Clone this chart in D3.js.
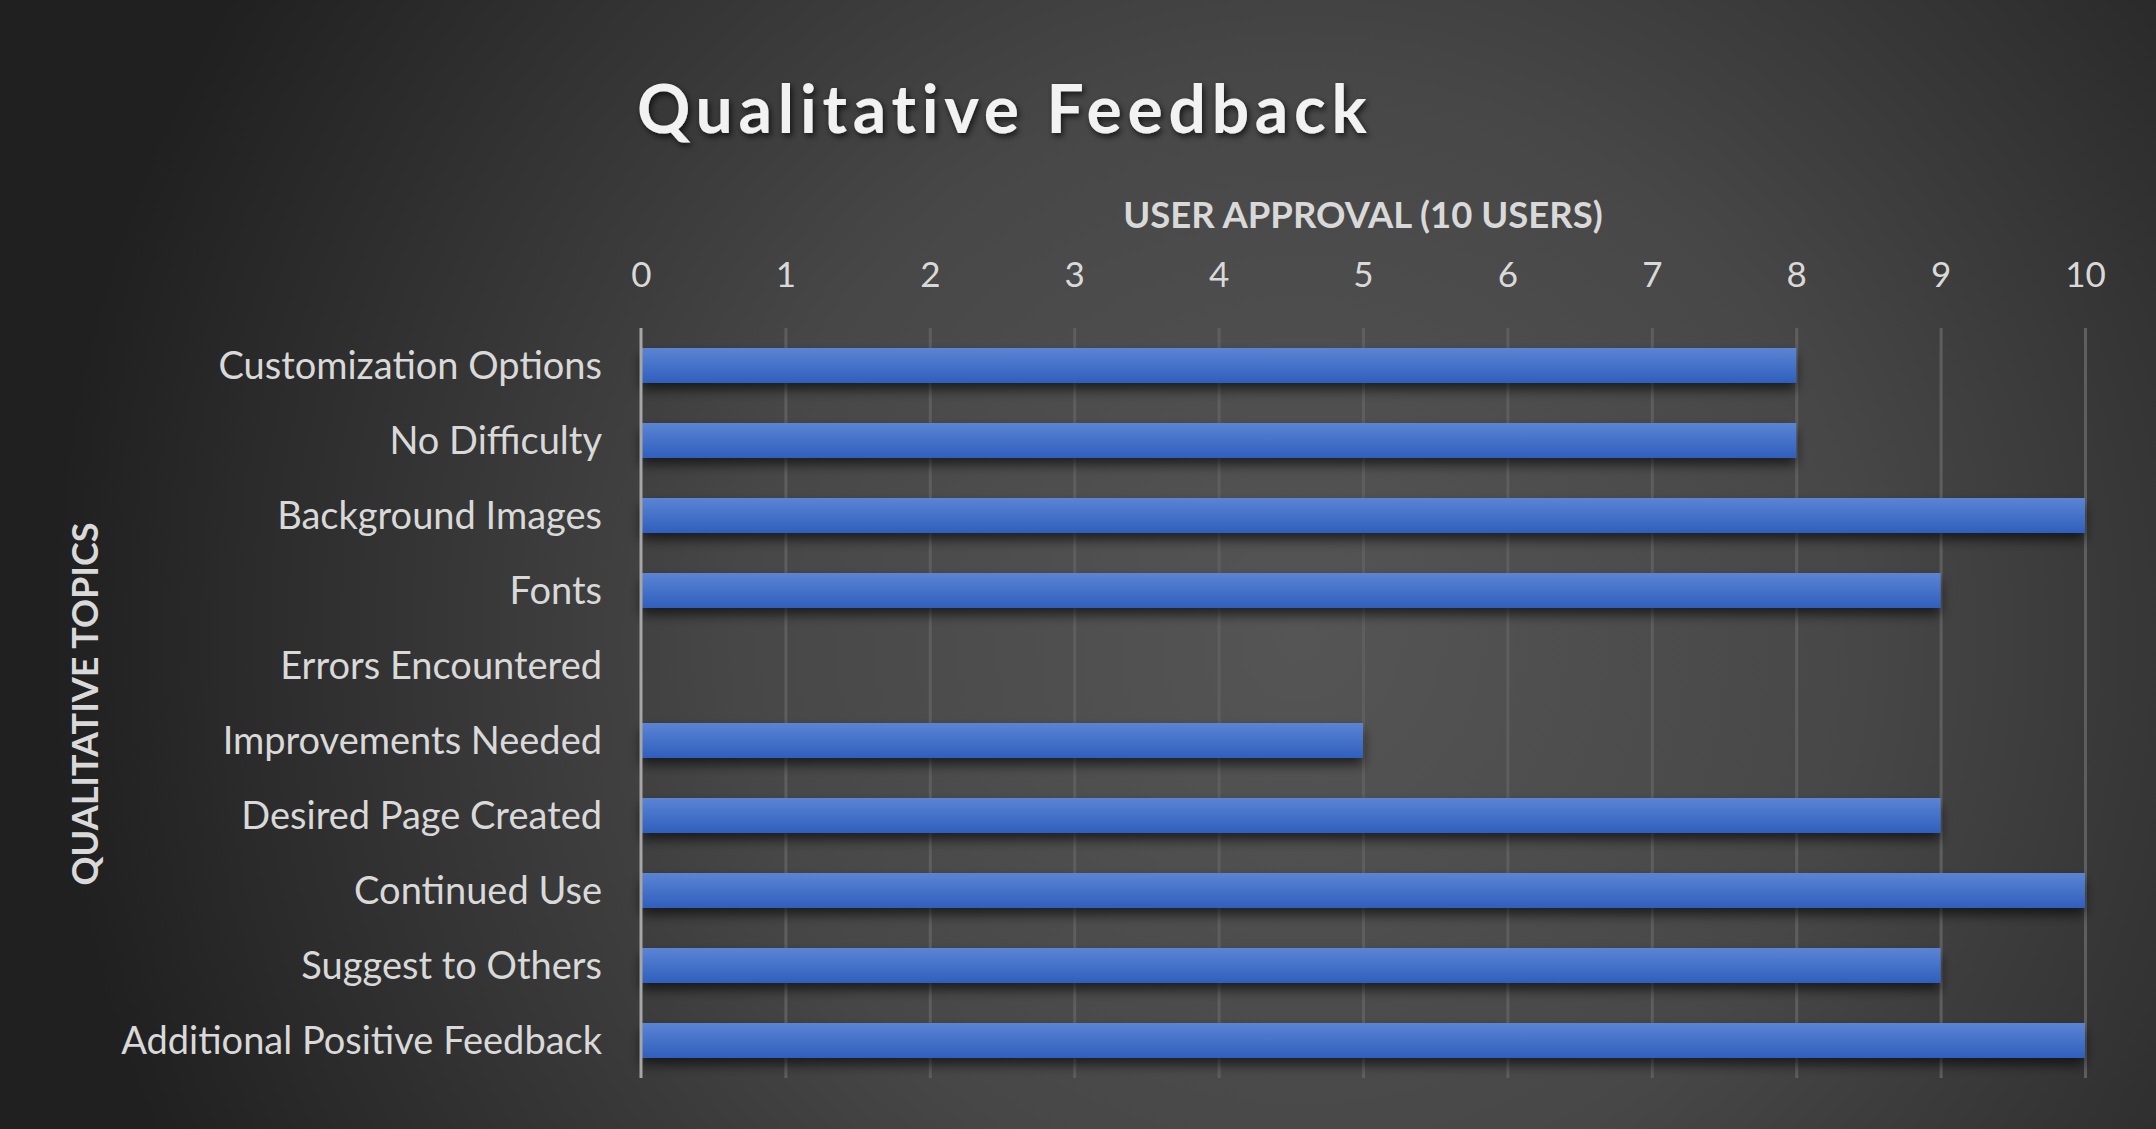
<!DOCTYPE html>
<html>
<head>
<meta charset="utf-8">
<script src="https://cdn.jsdelivr.net/npm/d3@7"></script>
<style>
  html, body { margin: 0; padding: 0; background: #2a2a2a; }
  svg { display: block; }
</style>
</head>
<body>
<svg id="chart" width="2156" height="1129"></svg>
<script>
const categories = [
  "Customization Options",
  "No Difficulty",
  "Background Images",
  "Fonts",
  "Errors Encountered",
  "Improvements Needed",
  "Desired Page Created",
  "Continued Use",
  "Suggest to Others",
  "Additional Positive Feedback"
];
const approvals = [8, 8, 10, 9, 0, 5, 9, 10, 9, 10];
const xTicks = [0, 1, 2, 3, 4, 5, 6, 7, 8, 9, 10];
const titleText = "Qualitative Feedback";
const xTitle = "USER APPROVAL (10 USERS)";
const yTitle = "QUALITATIVE TOPICS";

const W = 2156, H = 1129;
const plot = { left: 641, right: 2085, top: 328, bottom: 1078 };
const FONT = "Lato, 'Open Sans', sans-serif";

const svg = d3.select("#chart");
const defs = svg.append("defs");

const bg = defs.append("radialGradient").attr("id", "bg")
  .attr("gradientUnits", "userSpaceOnUse")
  .attr("cx", 1300).attr("cy", 640).attr("r", 1250);
bg.append("stop").attr("offset", "0%").attr("stop-color", "#555555");
bg.append("stop").attr("offset", "45%").attr("stop-color", "#474747");
bg.append("stop").attr("offset", "100%").attr("stop-color", "#202020");

const barGrad = defs.append("linearGradient").attr("id", "barGrad")
  .attr("x1", 0).attr("y1", 0).attr("x2", 0).attr("y2", 1);
barGrad.append("stop").attr("offset", "0%").attr("stop-color", "#5b84d4");
barGrad.append("stop").attr("offset", "100%").attr("stop-color", "#2f5fbd");

const shadow = defs.append("filter").attr("id", "barShadow")
  .attr("x", "-5%").attr("y", "-50%").attr("width", "110%").attr("height", "220%");
shadow.append("feDropShadow").attr("dx", 0).attr("dy", 7).attr("stdDeviation", 6)
  .attr("flood-color", "#000").attr("flood-opacity", 0.6);

const tshadow = defs.append("filter").attr("id", "textShadow")
  .attr("x", "-10%").attr("y", "-30%").attr("width", "120%").attr("height", "160%");
tshadow.append("feDropShadow").attr("dx", 2).attr("dy", 3).attr("stdDeviation", 3)
  .attr("flood-color", "#000").attr("flood-opacity", 0.7);

svg.append("rect").attr("width", W).attr("height", H).attr("fill", "url(#bg)");

const x = d3.scaleLinear().domain([0, 10]).range([plot.left, plot.right]);
const y = d3.scaleBand().domain(categories)
  .range([plot.top, plot.bottom])
  .paddingInner(40 / 75).paddingOuter(20 / 75);

// gridlines
const grid = svg.append("g").attr("transform", `translate(0,${plot.top})`)
  .call(d3.axisBottom(x).tickValues(xTicks).tickSize(plot.bottom - plot.top).tickFormat(""));
grid.select(".domain").remove();
grid.selectAll(".tick line").attr("stroke", "#5e5e5e").attr("stroke-width", 3)
  .filter(d => d === 0).remove();

// bars
svg.append("g").selectAll("rect")
  .data(approvals.map((v, i) => ({ c: categories[i], v })).filter(d => d.v > 0))
  .join("rect")
  .attr("x", x(0))
  .attr("y", d => y(d.c))
  .attr("width", d => x(d.v) - x(0))
  .attr("height", y.bandwidth())
  .attr("fill", "url(#barGrad)")
  .attr("filter", "url(#barShadow)");

// top axis ticks
const xAxis = svg.append("g").attr("transform", `translate(0,${plot.top})`)
  .call(d3.axisTop(x).tickValues(xTicks).tickSize(0).tickPadding(41).tickFormat(d3.format("d")));
xAxis.select(".domain").remove();
xAxis.selectAll("text").attr("fill", "#d9d9d9").style("font-family", FONT)
  .style("font-size", "35px");

// left axis
const yAxis = svg.append("g").attr("transform", `translate(${plot.left},0)`)
  .call(d3.axisLeft(y).tickSize(0).tickPadding(39));
yAxis.select(".domain").attr("stroke", "#a6a6a6").attr("stroke-width", 3)
  .attr("d", `M0,${plot.top}V${plot.bottom}`);
yAxis.selectAll("text").attr("fill", "#d9d9d9").style("font-family", FONT)
  .style("font-size", "38px").attr("dy", "0.35em");

// titles
const t = svg.append("text").attr("x", 637).attr("y", 133)
  .attr("fill", "#f2f2f2").style("font-family", FONT).style("font-weight", 700)
  .style("font-size", "66px").attr("filter", "url(#textShadow)")
  .text(titleText);
// fit letter spacing to target width
const tw = t.node().getComputedTextLength();
const ls = (731 - tw) / (titleText.length - 1);
t.style("letter-spacing", ls + "px");

svg.append("text").attr("x", 1363).attr("y", 228).attr("text-anchor", "middle")
  .attr("fill", "#d9d9d9").style("font-family", FONT).style("font-weight", 700)
  .style("font-size", "36.5px").text(xTitle);

svg.append("text").attr("transform", "translate(98,704) rotate(-90)")
  .attr("text-anchor", "middle")
  .attr("fill", "#d9d9d9").style("font-family", FONT).style("font-weight", 700)
  .style("font-size", "36px").text(yTitle);
</script>
</body>
</html>
